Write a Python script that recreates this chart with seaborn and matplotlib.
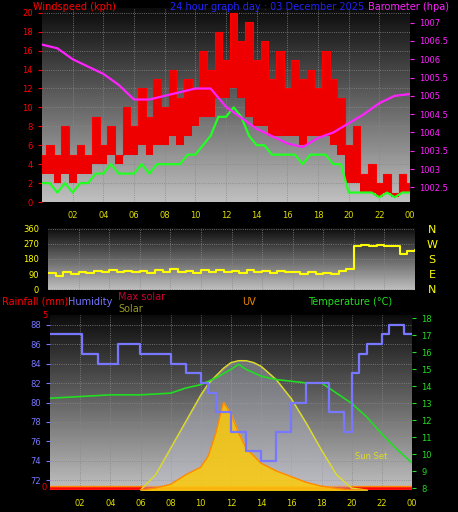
import numpy as np
import matplotlib
matplotlib.use("Agg")
import matplotlib.pyplot as plt
import seaborn as sns

sns.set_style("dark")
plt.rcParams['font.family'] = ['DejaVu Sans']

# --- data (half-hourly) ---
hours = [h * 0.5 for h in range(49)]
wind_gust = [5, 6, 5, 8, 5, 6, 5, 9, 6, 8, 5, 10, 8, 12, 9, 13, 10, 14, 11, 13, 12, 16, 14, 18,
             15, 20, 17, 19, 15, 17, 13, 16, 12, 15, 13, 14, 12, 16, 13, 11, 6, 8, 3, 4, 2, 3, 1, 3, 2]
wind_low = [3, 3, 2, 3, 2, 3, 3, 4, 4, 5, 4, 5, 5, 6, 5, 6, 6, 7, 6, 7, 8, 9, 9, 11,
            11, 12, 11, 9, 8, 8, 7, 7, 7, 7, 6, 7, 7, 7, 6, 5, 2, 2, 1, 1, 0.5, 1, 0.5, 1, 1]
wind_avg = [2, 2, 1, 2, 1, 2, 2, 3, 3, 4, 3, 3, 3, 4, 3, 4, 4, 4, 4, 5, 5, 6, 7, 9,
            9, 10, 9, 7, 6, 6, 5, 5, 5, 5, 4, 5, 5, 5, 4, 4, 1, 1, 1, 1, 0.5, 1, 0.5, 1, 1]
baro_hours = [0, 1, 2, 3, 4, 5, 6, 7, 8, 9, 10, 11, 12, 13, 14, 15, 16, 17, 18, 19, 20, 21, 22, 23, 24]
baro = [1006.4, 1006.3, 1006.0, 1005.8, 1005.6, 1005.3, 1004.9, 1004.9, 1005.0, 1005.1, 1005.2, 1005.2,
        1004.7, 1004.4, 1004.1, 1003.9, 1003.7, 1003.6, 1003.85, 1004.0, 1004.25, 1004.5, 1004.8, 1005.0, 1005.05]
wind_dir = [95, 80, 100, 90, 105, 95, 110, 100, 115, 105, 110, 100, 108, 95, 112, 100, 118, 105, 110, 98,
            112, 100, 115, 104, 110, 96, 112, 100, 108, 95, 110, 100, 105, 90, 100, 88, 98, 92, 110, 120,
            260, 265, 255, 262, 258, 260, 210, 230, 235]
hum_hours = [0, 2, 2.1, 3, 3.2, 4, 4.5, 5.5, 6, 8, 9, 10, 10.5, 11, 12, 13, 14, 15, 16, 17, 18, 18.5, 19.5, 20, 20.5, 21, 22, 22.5, 23.5, 24]
humidity = [87, 87, 85, 85, 84, 84, 86, 86, 85, 84, 83, 82, 81, 79, 77, 75, 74, 77, 80, 82, 82, 79, 77, 83, 85, 86, 87, 88, 87, 87]
temp_hours = [0, 2, 4, 6, 8, 9, 10, 11, 12, 12.5, 13, 14, 15, 16, 17, 18, 19, 20, 21, 22, 23, 24]
temperature = [13.3, 13.4, 13.5, 13.5, 13.6, 13.9, 14.1, 14.5, 15.0, 15.3, 15.0, 14.6, 14.4, 14.3, 14.2, 14.2, 13.6, 13.0, 12.2, 11.2, 10.3, 9.5]
solar_hours = [6, 7, 8, 9, 10, 10.5, 11, 11.5, 12, 12.5, 13, 13.5, 14, 15, 16, 17, 18, 19, 20, 21]
max_solar = [0, 40, 110, 180, 250, 280, 300, 320, 335, 340, 340, 335, 325, 290, 240, 175, 105, 40, 5, 0]
solar = [0, 5, 15, 40, 60, 90, 150, 230, 200, 150, 110, 90, 70, 50, 35, 20, 10, 4, 0, 0]
xtick_labels = ['02', '04', '06', '08', '10', '12', '14', '16', '18', '20', '22', '00']

fig = plt.figure(figsize=(4.58, 5.12), dpi=100, facecolor='black')
W, H = 458, 512


def box(x0, y0, x1, y1):
    return fig.add_axes([x0 / W, 1 - y1 / H, (x1 - x0) / W, (y1 - y0) / H])


def gradient(ax):
    g = np.linspace(0.05, 0.75, 100).reshape(-1, 1)
    ax.imshow(g, aspect='auto', cmap='gray', extent=[0, 24, 0, 1],
              transform=ax.get_xaxis_transform(), zorder=0, vmin=0, vmax=1)


def style(ax, col, xlabels=True):
    ax.set_facecolor('black')
    ax.set_xlim(0, 24)
    ax.set_xticks(range(2, 25, 2))
    ax.set_xticklabels(xtick_labels if xlabels else [], fontsize=6)
    ax.tick_params(axis='y', colors=col, labelsize=6, length=3)
    ax.tick_params(axis='x', colors='#999999', labelsize=6, length=3)
    for t in ax.get_xticklabels():
        t.set_color('#dddd00')
    ax.grid(True, color='#888888', linestyle=':', linewidth=0.6)
    for s in ax.spines.values():
        s.set_visible(False)


# --- top: wind and barometer ---
ax1 = box(42, 8, 410, 202)
gradient(ax1)
ax1.fill_between(hours, wind_low, wind_gust, step='mid', color='#ee0000', zorder=3, linewidth=0)
sns.lineplot(x=hours, y=wind_gust, ax=ax1, color='red', drawstyle='steps-mid', linewidth=0.8, zorder=3)
sns.lineplot(x=hours, y=wind_avg, ax=ax1, color='#22ff22', linewidth=1.6, zorder=4)
ax1.set_ylim(0, 20.5)
ax1.set_yticks(range(0, 21, 2))
style(ax1, 'red')
ax1b = ax1.twinx()
sns.lineplot(x=baro_hours, y=baro, ax=ax1b, color='#ff22ff', linewidth=1.6, zorder=5)
ax1b.set_ylim(1002.1, 1007.4)
ax1b.set_yticks([1002.5, 1003, 1003.5, 1004, 1004.5, 1005, 1005.5, 1006, 1006.5, 1007])
ax1b.set_yticklabels(['1002.5', '1003', '1003.5', '1004', '1004.5', '1005', '1005.5', '1006', '1006.5', '1007'])
ax1b.tick_params(axis='y', colors='#ff22ff', labelsize=6, length=3)
for s in ax1b.spines.values():
    s.set_visible(False)
fig.text(33 / W, 1 - 10 / H, 'Windspeed (kph)', color='red', fontsize=7)
fig.text(170 / W, 1 - 10 / H, '24 hour graph day : 03 December 2025', color='#2222ff', fontsize=7)
fig.text(368 / W, 1 - 10 / H, 'Barometer (hpa)', color='#ff22ff', fontsize=7)

# --- middle: wind direction ---
ax2 = box(48, 228, 415, 290)
gradient(ax2)
sns.lineplot(x=hours, y=wind_dir, ax=ax2, color='yellow', linewidth=1.5, drawstyle='steps-post')
ax2.set_ylim(-5, 365)
ax2.set_yticks([0, 90, 180, 270, 360])
style(ax2, 'yellow', xlabels=False)
ax2.tick_params(axis='x', length=0)
for i, c in enumerate('NWSEN'):
    fig.text(432 / W, 1 - (230 + i * 15) / H, c, color='yellow', fontsize=8, ha='center', va='center')

# --- bottom: humidity, temperature, solar ---
ax3 = box(50, 315, 412, 490)
gradient(ax3)
ax3.set_ylim(71, 89)
ax3s = ax3.twinx()
ax3s.fill_between(solar_hours, max_solar, color='#bbbbcc', alpha=0.4)
sns.lineplot(x=solar_hours, y=max_solar, ax=ax3s, color='#dddd22', linewidth=1)
ax3s.fill_between(solar_hours, solar, color='#ffcc00', alpha=0.8)
sns.lineplot(x=solar_hours, y=solar, ax=ax3s, color='#ff8800', linewidth=1)
ax3s.set_ylim(0, 460)
ax3s.set_yticks([])
ax3t = ax3.twinx()
sns.lineplot(x=temp_hours, y=temperature, ax=ax3t, color='#22dd22', linewidth=1.2)
ax3t.set_ylim(7.9, 18.2)
ax3t.set_yticks(range(8, 19))
ax3t.tick_params(axis='y', colors='#22dd22', labelsize=6, length=3)
ax3h = ax3.twinx()
sns.lineplot(x=hum_hours, y=humidity, ax=ax3h, color='#7777ff', linewidth=1.6, drawstyle='steps-post')
ax3h.set_ylim(71, 89)
ax3h.set_yticks([])
ax3.axhline(71.2, color='red', linewidth=2)
ax3.axhline(71.4, color='#ff8800', linewidth=1)
style(ax3, '#7777ff')
ax3.set_yticks(range(72, 89, 2))
for a in (ax3s, ax3t, ax3h):
    for s in a.spines.values():
        s.set_visible(False)
ax3.text(20.2, 74.2, 'Sun Set', color='#dddd22', fontsize=6)
fig.text(2 / W, 1 - 305 / H, 'Rainfall (mm)', color='red', fontsize=7)
fig.text(68 / W, 1 - 305 / H, 'Humidity', color='#7777ff', fontsize=7)
fig.text(118 / W, 1 - 300 / H, 'Max solar', color='#cc0033', fontsize=7)
fig.text(118 / W, 1 - 312 / H, 'Solar', color='#999922', fontsize=7)
fig.text(242 / W, 1 - 305 / H, 'UV', color='#ee8800', fontsize=7)
fig.text(308 / W, 1 - 305 / H, 'Temperature (°C)', color='#22dd22', fontsize=7)
fig.text(42 / W, 1 - 318 / H, '5', color='red', fontsize=6)
fig.text(42 / W, 1 - 490 / H, '0', color='red', fontsize=6)

fig.savefig('out.png', dpi=100, facecolor='black')
